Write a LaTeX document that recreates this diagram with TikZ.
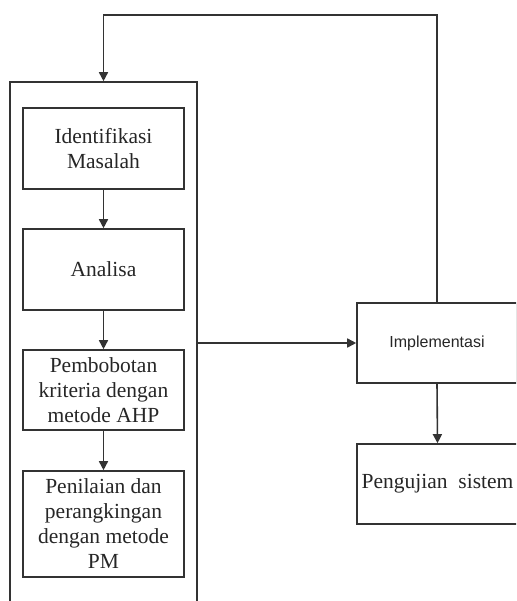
\documentclass[tikz,border=0pt]{standalone}
\usepackage{fontspec}
\setmainfont{Liberation Serif}
\newfontfamily\sansf{Liberation Sans}
\usetikzlibrary{arrows.meta}
\begin{document}
\begin{tikzpicture}[x=1pt,y=-1pt,
  line width=1.6pt, draw=black!80,
  stepbox/.style={draw=black!80, line width=1.6pt, inner sep=0pt, align=center,
    text=black!85, font=\fontsize{21.5}{25}\selectfont},
  flow/.style={draw=black!80, line width=1.6pt, -{Triangle[length=9pt,width=9pt]}}]
\useasboundingbox (0,0) rectangle (516,601);
\clip (0,0) rectangle (516,601);
\node[draw=black!80, line width=1.6pt, minimum width=187pt, minimum height=540pt, inner sep=0pt] (cont) at (103.5,352) {};
\node[stepbox, minimum width=161pt, minimum height=81pt] (b1) at (103.5,148.5) {Identifikasi\\Masalah};
\node[stepbox, minimum width=161pt, minimum height=81pt] (b2) at (103.5,269.5) {Analisa};
\node[stepbox, minimum width=161pt, minimum height=80pt] (b3) at (103.5,390) {Pembobotan\\kriteria dengan\\metode AHP};
\node[stepbox, minimum width=161pt, minimum height=106pt] (b4) at (103.5,524) {Penilaian dan\\perangkingan\\dengan metode\\PM};
\node[stepbox, minimum width=160pt, minimum height=80pt, font=\sansf\fontsize{16}{18}\selectfont] (impl) at (437,343) {Implementasi};
\node[stepbox, minimum width=161pt, minimum height=80pt] (uji) at (437.5,484) {Pengujian\ \ sistem};
\coordinate (tr) at (437,15);
\coordinate (tl) at (103.5,15);
\draw[flow] (b1.south) -- (b2.north);
\draw[flow] (b2.south) -- (b3.north);
\draw[flow] (b3.south) -- (b4.north);
\draw[flow] (cont.east |- impl.west) -- (impl.west);
\draw[flow] (impl.south) -- (uji.north);
\draw[flow] (impl.north) -- (tr) -- (tl) -- (cont.north);
\end{tikzpicture}
\end{document}
